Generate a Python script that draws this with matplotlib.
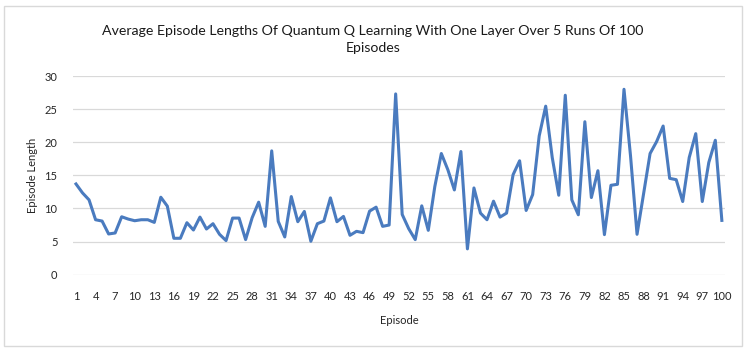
import matplotlib.pyplot as plt
from matplotlib.patches import Rectangle
import numpy as np

plt.rcParams['font.family'] = ['Lato', 'DejaVu Sans']

episodes = np.arange(1, 101)
lengths = [13.7, 12.35, 11.3, 8.3, 8.1, 6.15, 6.3, 8.75, 8.4, 8.15,
           8.3, 8.3, 7.9, 11.7, 10.35, 5.5, 5.5, 7.85, 6.75, 8.7,
           6.9, 7.7, 6.1, 5.15, 8.55, 8.55, 5.3, 8.6, 10.95, 7.3,
           18.7, 8.05, 5.7, 11.8, 8.0, 9.55, 5.05, 7.7, 8.1, 11.6,
           8.0, 8.8, 5.95, 6.55, 6.35, 9.6, 10.2, 7.3, 7.5, 27.3,
           9.1, 6.95, 5.3, 10.4, 6.7, 13.3, 18.3, 15.85, 12.8, 18.6,
           3.9, 13.1, 9.3, 8.3, 11.1, 8.7, 9.3, 15.1, 17.2, 9.7,
           12.1, 20.95, 25.45, 17.7, 12.0, 27.1, 11.3, 9.05, 23.1, 11.65,
           15.7, 6.05, 13.5, 13.65, 28.0, 17.95, 6.1, 12.2, 18.3, 20.1,
           22.45, 14.55, 14.35, 11.05, 17.7, 21.3, 11.05, 16.95, 20.3, 8.2]
xticks = list(range(1, 101, 3))
yticks = [0, 5, 10, 15, 20, 25, 30]

fig = plt.figure(figsize=(7.46, 3.52), dpi=100)
ax = fig.add_axes([0.0975, 0.2196, 0.8745, 0.5644])

ax.plot(episodes, lengths, color='#4a7bbf', lw=2.2, solid_joinstyle='round')

ax.set_xlim(0.5, 100.5)
ax.set_ylim(0, 30)
ax.set_xticks(xticks)
ax.set_yticks(yticks)
ax.tick_params(length=0, labelsize=8, colors='#262626', pad=12)
ax.tick_params(axis='y', pad=11)
ax.grid(axis='y', color='#d9d9d9', lw=0.9)
ax.set_axisbelow(True)
for s in ax.spines.values():
    s.set_visible(False)

ax.set_xlabel('Episode', fontsize=8, color='#262626', labelpad=9)
ax.set_ylabel('Episode Length', fontsize=8, color='#262626', labelpad=5)

fig.text(0.5, 0.888, 'Average Episode Lengths Of Quantum Q Learning With One Layer Over 5 Runs Of 100\nEpisodes',
         ha='center', va='center', fontsize=10.2, color='#1a1a1a', linespacing=1.45)

fig.patches.append(Rectangle((4/746, 6/352), 738/746, 340/352, transform=fig.transFigure,
                             fill=False, edgecolor='#d9d9d9', lw=1))

fig.savefig('out.png', dpi=100)
